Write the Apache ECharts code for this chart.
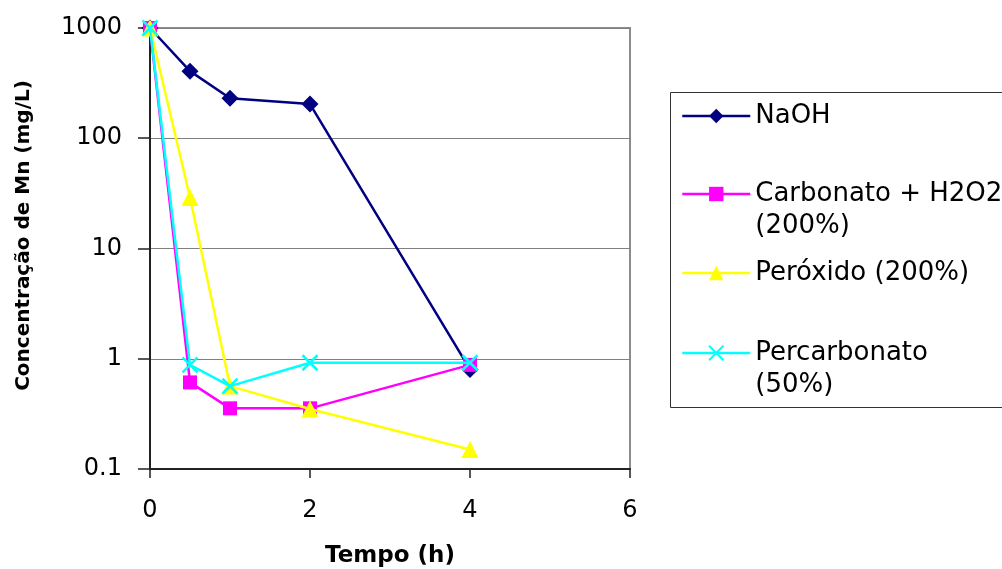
<!DOCTYPE html>
<html>
<head>
<meta charset="utf-8">
<script src="https://cdn.jsdelivr.net/npm/echarts@6/dist/echarts.min.js"></script>
<style>html,body{margin:0;padding:0;background:#fff;}#c{width:1002px;height:569px;}</style>
</head>
<body>
<div id="c"></div>
<script>
const time = [0, 0.5, 1, 2, 4];
const naoh = [1000, 406, 231, 204, 0.8];
const carbonato = [1000, 0.61, 0.355, 0.355, 0.88];
const peroxido = [1000, 29, 0.565, 0.35, 0.15];
const percarbonato = [1000, 0.88, 0.565, 0.92, 0.92];
const seriesNames = ['NaOH', 'Carbonato + H2O2\n(200%)', 'Peróxido (200%)', 'Percarbonato\n(50%)'];
const xTickLabels = ['0', '2', '4', '6'];
const yTickLabels = ['0.1', '1', '10', '100', '1000'];
const xTitle = 'Tempo (h)';
const yTitle = 'Concentração de Mn (mg/L)';

const pair = (vals) => time.map((t, i) => [t, vals[i]]);
const crossPath = 'path://M0,0L10,10M10,0L0,10';

const chart = echarts.init(document.getElementById('c'), null, {renderer: 'canvas'});

function legendFor(name, iconCenter, twoLine) {
  return {
    data: [name],
    left: 681,
    top: twoLine ? iconCenter - 48 : iconCenter - 16,
    padding: 0,
    itemWidth: 68,
    itemHeight: 18,
    itemGap: 0,
    selectedMode: false,
    lineStyle: {width: 2.5},
    formatter: (n) => twoLine ? ' \n' + n : n,
    textStyle: {
      fontFamily: 'DejaVu Sans',
      fontSize: 26,
      lineHeight: 32,
      color: '#000'
    }
  };
}

const yLabelMap = {};
[0.1, 1, 10, 100, 1000].forEach((v, i) => { yLabelMap[v] = yTickLabels[i]; });

chart.setOption({
  backgroundColor: '#fff',
  animation: false,
  grid: {
    left: 150, right: 372, top: 28, bottom: 100,
    outerBoundsMode: 'none', containLabel: false,
    show: true, borderColor: '#8c8c8c', borderWidth: 2
  },
  graphic: [{
    type: 'rect',
    shape: {x: 670.5, y: 92.5, width: 420, height: 315},
    style: {fill: 'none', stroke: '#333', lineWidth: 1},
    z: 0
  }],
  legend: [
    legendFor(seriesNames[0], 116, false),
    legendFor(seriesNames[1], 194, true),
    legendFor(seriesNames[2], 273, false),
    legendFor(seriesNames[3], 353, true)
  ],
  xAxis: {
    type: 'value', min: 0, max: 6, interval: 2,
    name: xTitle, nameLocation: 'middle', nameGap: 76,
    nameTextStyle: {fontFamily: 'DejaVu Sans', fontWeight: 'bold', fontSize: 23, color: '#000'},
    axisLine: {show: true, onZero: false, lineStyle: {color: '#222', width: 2}},
    axisTick: {show: true, inside: false, length: 9, lineStyle: {color: '#222', width: 1.5}},
    axisLabel: {
      margin: 30, fontFamily: 'DejaVu Sans', fontSize: 24, color: '#000',
      formatter: (v) => xTickLabels[Math.round(v / 2)]
    },
    splitLine: {show: false}
  },
  yAxis: {
    type: 'log', logBase: 10, min: 0.1, max: 1000,
    name: yTitle, nameLocation: 'middle', nameRotate: 90, nameGap: 116,
    nameTextStyle: {fontFamily: 'DejaVu Sans', fontWeight: 'bold', fontSize: 20, color: '#000', padding: [0, 0, 0, 26]},
    axisLine: {show: true, onZero: false, lineStyle: {color: '#222', width: 2}},
    axisTick: {show: true, inside: false, length: 12, lineStyle: {color: '#222', width: 1.5}},
    axisLabel: {
      margin: 28, fontFamily: 'DejaVu Sans', fontSize: 24, color: '#000',
      formatter: (v) => {
        const k = Math.round(Math.log10(v) * 1000) / 1000;
        const key = Math.pow(10, Math.round(k));
        return yLabelMap[key] !== undefined ? yLabelMap[key] : '';
      }
    },
    splitLine: {show: true, lineStyle: {color: '#808080', width: 1}}
  },
  series: [
    {
      name: seriesNames[0], type: 'line', data: pair(naoh),
      symbol: 'diamond', symbolSize: 17,
      itemStyle: {color: '#000080'},
      lineStyle: {color: '#000080', width: 2.5}, z: 2
    },
    {
      name: seriesNames[1], type: 'line', data: pair(carbonato),
      symbol: 'rect', symbolSize: 14,
      itemStyle: {color: '#ff00ff'},
      lineStyle: {color: '#ff00ff', width: 2.5}, z: 3
    },
    {
      name: seriesNames[2], type: 'line', data: pair(peroxido),
      symbol: 'triangle', symbolSize: 17,
      itemStyle: {color: '#ffff00'},
      lineStyle: {color: '#ffff00', width: 2.5}, z: 4
    },
    {
      name: seriesNames[3], type: 'line', data: pair(percarbonato),
      symbol: crossPath, symbolSize: 15,
      itemStyle: {color: 'rgba(0,0,0,0)', borderColor: '#00ffff', borderWidth: 2.5},
      lineStyle: {color: '#00ffff', width: 2.5}, z: 5
    }
  ]
});
</script>
</body>
</html>
